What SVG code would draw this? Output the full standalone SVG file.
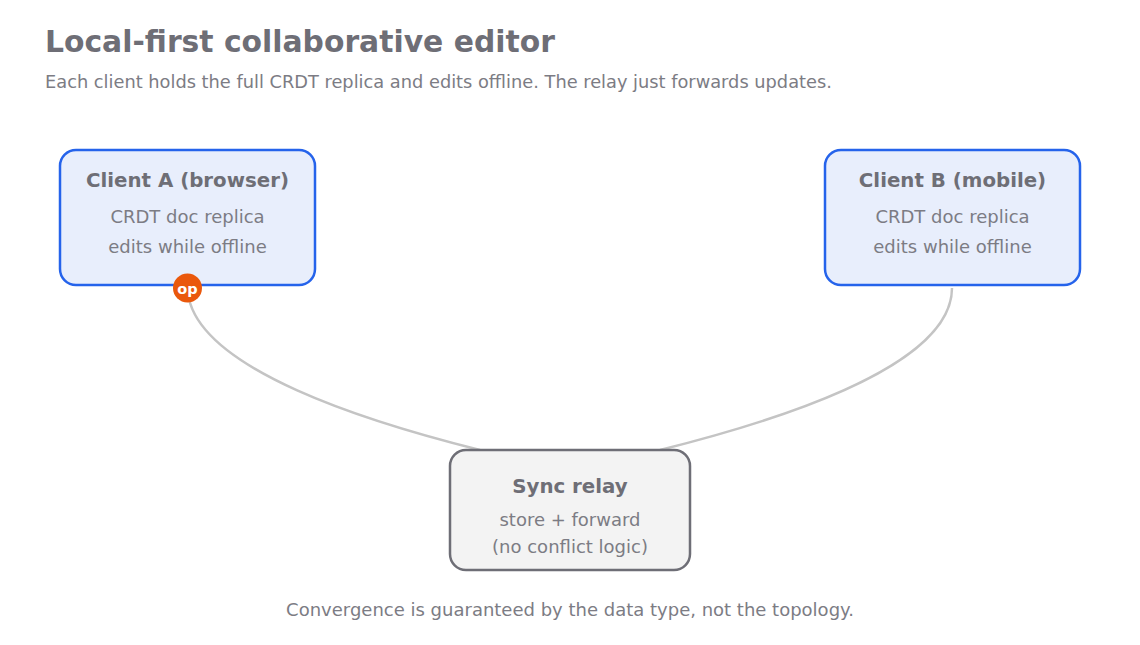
<svg xmlns="http://www.w3.org/2000/svg" width="1140" height="645" viewBox="0 0 1140 645">
<style>
text{font-family:"DejaVu Sans","Liberation Sans",sans-serif}
.title{font-size:29.8px;font-weight:bold;fill:#6e6e76}
.sub{font-size:17.8px;fill:#7c7c84}
.nt{font-size:19.8px;font-weight:bold;fill:#6e6e76;text-anchor:middle}
.nl{font-size:18px;fill:#7c7c84;text-anchor:middle}
.client{fill:#e8eefc;stroke:#2563eb;stroke-width:2.5}
.relay{fill:#f3f3f3;stroke:#6e6e76;stroke-width:2.5}
.edge{fill:none;stroke:#c4c4c4;stroke-width:2.5}
</style>
<rect width="1140" height="645" fill="#ffffff"/>
<text class="title" x="45" y="52">Local-first collaborative editor</text>
<text class="sub" x="45" y="87.5">Each client holds the full CRDT replica and edits offline. The relay just forwards updates.</text>
<g id="connectors">
<path class="edge" d="M187.5,288 C190,370 380,425 480,450"/>
<path class="edge" d="M952,288 C952,370 760,425 660,450"/>
</g>
<g id="clientA">
<rect class="client" x="60" y="150" width="255" height="135" rx="16"/>
<text class="nt" x="187.5" y="187">Client A (browser)</text>
<text class="nl" x="187.5" y="223">CRDT doc replica</text>
<text class="nl" x="187.5" y="253">edits while offline</text>
</g>
<g id="clientB">
<rect class="client" x="825" y="150" width="255" height="135" rx="16"/>
<text class="nt" x="952.5" y="187">Client B (mobile)</text>
<text class="nl" x="952.5" y="223">CRDT doc replica</text>
<text class="nl" x="952.5" y="253">edits while offline</text>
</g>
<g id="relay">
<rect class="relay" x="450" y="450" width="240" height="120" rx="16"/>
<text class="nt" x="570" y="493">Sync relay</text>
<text class="nl" x="570" y="526">store + forward</text>
<text class="nl" x="570" y="553">(no conflict logic)</text>
</g>
<g id="op-badge">
<circle cx="187.5" cy="288" r="14.5" fill="#ea580c"/>
<text x="187.5" y="293.5" font-size="14.5" font-weight="bold" fill="#ffffff" text-anchor="middle">op</text>
</g>
<text class="nl" x="570" y="616">Convergence is guaranteed by the data type, not the topology.</text>
</svg>
